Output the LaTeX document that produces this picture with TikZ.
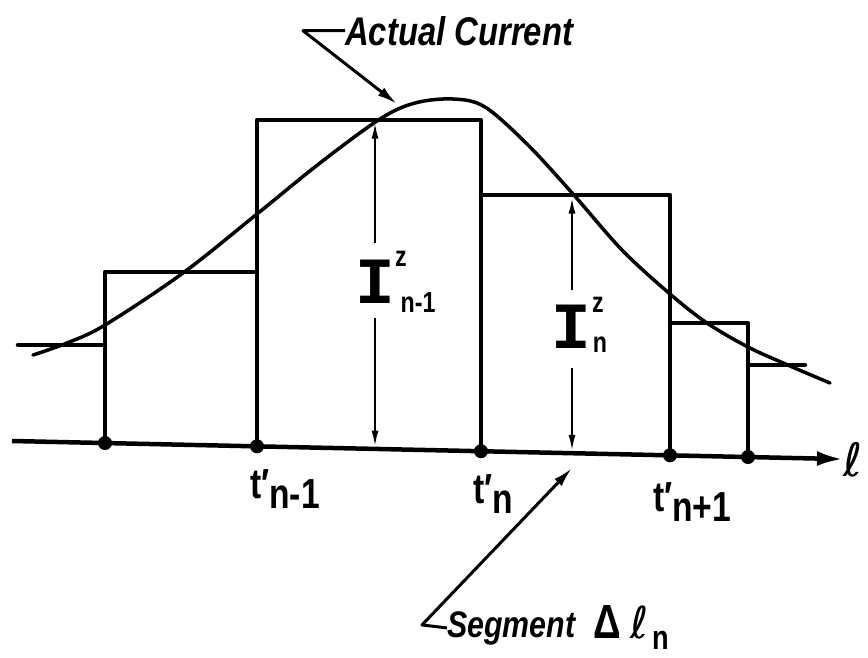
\documentclass[tikz,border=0pt]{standalone}
\usepackage{fontspec}
\usepackage{graphicx}
\usetikzlibrary{arrows.meta}
\newfontfamily\labfam{Liberation Sans}[FakeStretch=0.8]
\newfontfamily\itfam{Liberation Sans}[FakeStretch=0.82]
\newfontfamily\monofam{Liberation Mono}
\newfontfamily\djvfam{DejaVu Sans}
\tikzset{
  bar/.style={line width=4.5pt, line cap=round, line join=round},
  curvel/.style={line width=3.5pt, line cap=round},
  dimarrow/.style={line width=2.2pt, -{Latex[length=16pt,width=7pt]}},
  leader/.style={line width=3pt, line join=round, -{Latex[length=20pt,width=10pt]}},
  axisline/.style={line width=4.5pt, -{Latex[length=26pt,width=15pt]}},
  dot/.style={circle, fill, inner sep=0pt, minimum size=14pt},
  lab/.style={inner sep=0pt, anchor=base west, font=\labfam\bfseries\fontsize{42}{44}\selectfont},
  small/.style={inner sep=0pt, font=\labfam\bfseries\fontsize{29}{30}\selectfont},
  bigI/.style={inner sep=0pt, font=\monofam\bfseries\fontsize{66}{66}\selectfont},
  note/.style={inner sep=0pt, anchor=base west, font=\itfam\bfseries\itshape\fontsize{40}{42}\selectfont},
}
\begin{document}
\begin{tikzpicture}[x=1pt, y=-1pt]
\useasboundingbox (0,0) rectangle (868,657);

% axis points
\coordinate (ax0) at (12,441);
\coordinate (ax1) at (843,459.1);
\coordinate (p1) at (105,443.0);
\coordinate (p2) at (257,446.3);
\coordinate (p3) at (481,451.2);
\coordinate (p4) at (670,455.3);
\coordinate (p5) at (748,457.0);
\coordinate (m2) at (375,446.6);
\coordinate (m3) at (572,450.9);

% box tops
\coordinate (s0) at (18,345);
\coordinate (s1) at (105,345);
\coordinate (b1l) at (105,272);
\coordinate (b1r) at (257,272);
\coordinate (b2l) at (257,120);
\coordinate (b2r) at (481,120);
\coordinate (b3l) at (481,195);
\coordinate (b3r) at (670,195);
\coordinate (b4l) at (670,323);
\coordinate (b4r) at (748,323);
\coordinate (r0) at (748,365);
\coordinate (r1) at (805,365);

% staircase
\draw[bar] (s0) -- (s1);
\draw[bar] (p1) -- (b1l) -- (b1r);
\draw[bar] (p2) -- (b2l) -- (b2r) -- (p3);
\draw[bar] (b3l) -- (b3r) -- (p4);
\draw[bar] (b4l) -- (b4r) -- (p5);
\draw[bar] (r0) -- (r1);

% axis
\draw[axisline] (ax0) -- (ax1);
\foreach \p in {p1,p2,p3,p4,p5} \node[dot] at (\p) {};
\node[inner sep=0pt, anchor=base west, font=\djvfam\fontsize{46}{46}\selectfont] (ell) at (843,476) {ℓ};

% actual current curve
\draw[curvel] plot[smooth, tension=0.55] coordinates {
 (33,355) (67,343) (105,325) (183,273) (257,214) (320,163) (380,119)
 (415,103) (453,99) (485,107) (528,145) (573,194) (622,250) (670,294)
 (707,323) (748,347) (790,366) (830,383)};

% dimension arrows, box n-1
\coordinate (d2t) at (375,122.5);
\coordinate (d2a) at (375,243);
\coordinate (d2b) at (375,318);
\draw[dimarrow] (d2a) -- (d2t);
\draw[dimarrow] (d2b) -- (m2);
\node[bigI] (I1) at (375,282) {I};
\node[small] (I1z) at (401,259) {z};
\node[small] (I1n) at (418,303) {n-1};

% dimension arrows, box n
\coordinate (d3t) at (572,197.5);
\coordinate (d3a) at (572,290);
\coordinate (d3b) at (572,368);
\draw[dimarrow] (d3a) -- (d3t);
\draw[dimarrow] (d3b) -- (m3);
\node[bigI] (I2) at (571,327) {I};
\node[small] (I2z) at (598,305) {z};
\node[small] (I2n) at (600,345) {n};

% t labels
\node[lab] (t1) at (250,498) {t′\raisebox{-10pt}{n-1}};
\node[lab] (t2) at (473,503) {t′\raisebox{-10pt}{n}};
\node[lab] (t3) at (653,511) {t′\raisebox{-10pt}{n+1}};

% Actual current label and leader
\node[note] (actual) at (345,45) {Actual Current};
\coordinate (acT) at (397,104);
\draw[leader] (actual.west) -- ++(-42,0) -- (acT);

% Segment label and leader
\node[note, font=\itfam\bfseries\itshape\fontsize{37}{39}\selectfont] (seg) at (447,637) {Segment};
\node[inner sep=0pt, anchor=base west, font=\labfam\bfseries\fontsize{48}{48}\selectfont] (delta) at (593,638) {Δ};
\node[inner sep=0pt, anchor=base west, font=\djvfam\fontsize{44}{44}\selectfont] (ell2) at (630,638) {ℓ};
\node[inner sep=0pt, anchor=base west, font=\labfam\bfseries\fontsize{34}{34}\selectfont] (segn) at (652,649) {n};
\coordinate (segT) at (572,468);
\draw[leader] (seg.west) -- ++(-25,-3) -- (segT);
\end{tikzpicture}
\end{document}
